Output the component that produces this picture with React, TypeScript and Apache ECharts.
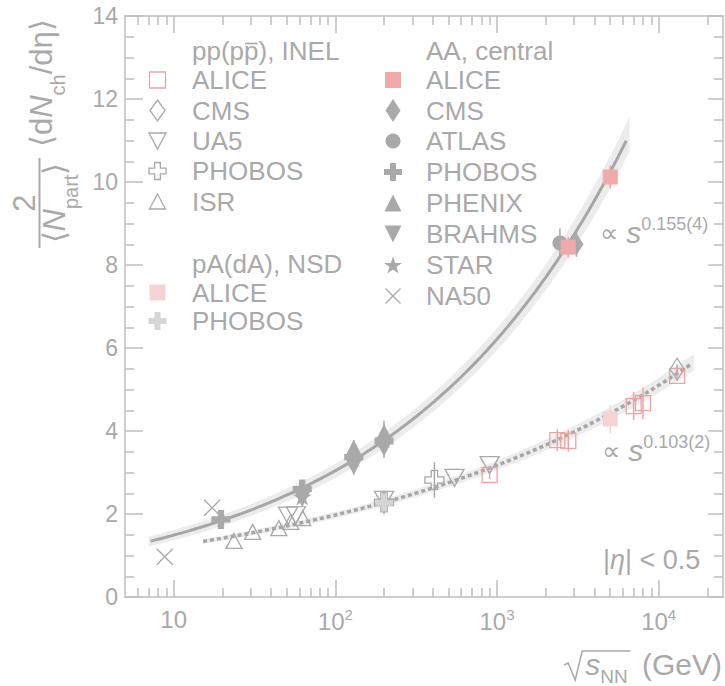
import React, { useEffect, useRef } from 'react';
import * as echarts from 'echarts';

const FONT = "'Liberation Sans', Arial, Helvetica, sans-serif";
const TEXT_COLOR = '#a9a9a9';
const AXIS_COLOR = '#bebebe';
const MARK_GREY = '#a9a9a9';
const ALICE_PINK = '#f1aaaa';
const ALICE_PINK_LINE = '#f0a2a2';
const PA_PINK = '#f6d3d3';
const DA_GREY = '#d5d5d5';
const FIT_GREY = '#a6a6a6';
const BAND_GREY = '#ececec';

// Axis ranges and tick positions
const X_MIN = 5;
const X_MAX = 25000;
const X_MAJOR_TICKS = [10, 100, 1000, 10000];
const X_MINOR_TICKS = [6, 7, 8, 9, 20, 30, 40, 50, 60, 70, 80, 90, 200, 300, 400, 500, 600, 700, 800, 900,
  2000, 3000, 4000, 5000, 6000, 7000, 8000, 9000, 20000];
const Y_MIN = 0;
const Y_MAX = 14;
const Y_STEP = 2;

// Measurements: [√sNN (GeV), 2/<Npart> <dNch/dη>, uncertainty]
// pp(pp̄), INEL
const ppAlice = [[900, 2.94, 0.1], [2360, 3.78, 0.26], [2760, 3.76, 0.26], [7000, 4.6, 0.34], [8000, 4.67, 0.38], [13000, 5.33, 0.12]];
const ppCms = [[13000, 5.49, 0.12]];
const ppUa5 = [[51, 1.96, 0], [57, 1.97, 0], [200, 2.34, 0], [546, 2.87, 0], [900, 3.18, 0]];
const ppPhobos = [[200, 2.28, 0.28], [410, 2.82, 0.43]];
const ppIsr = [[23.6, 1.35, 0], [30.8, 1.57, 0], [44.7, 1.66, 0], [53, 1.81, 0], [62.8, 1.9, 0]];
// pA(dA), NSD
const pAlice = [[5020, 4.29, 0.34]];
const dAuPhobos = [[200, 2.27, 0.2]];
// AA, central
const aaAlice = [[2760, 8.43, 0.25], [5020, 10.12, 0.28]];
const aaCms = [[3100, 8.5, 0.3]];
const aaAtlas = [[2450, 8.53, 0.35]];
const aaPhobos = [[19.6, 1.87, 0], [62.4, 2.6, 0.15], [130, 3.37, 0.15], [200, 3.75, 0.2]];
const aaPhenix = [[130, 3.58, 0.2], [200, 3.95, 0.3]];
const aaBrahms = [[62.4, 2.38, 0.15], [130, 3.15, 0.2], [200, 3.6, 0.25]];
const aaStar = [[62.4, 2.42, 0.15], [130, 3.35, 0], [200, 3.8, 0]];
const aaNa50 = [[8.8, 0.97, 0], [17.3, 2.15, 0]];

// Power-law fits: norm · s^exponent, s in GeV²
const AA_FIT = { norm: 0.73, exponent: 0.155, from: 7.2, to: 6300 };
const AA_BAND = { from: 7.0, to: 6600, abs: 0.08, rel: 0.03 };
const PP_FIT = { norm: 0.765, exponent: 0.103, from: 15.2, to: 15800 };
const PP_BAND = { from: 15.2, to: 16500, abs: 0.01, rel: 0.033 };

const SYM_CROSS = 'path://M1,0L2,0L2,1L3,1L3,2L2,2L2,3L1,3L1,2L0,2L0,1L1,1Z';
const SYM_TRI_DOWN = 'path://M0,0L2,0L1,2Z';
const SYM_STAR = 'path://M50,0L61.2,34.5L97.6,34.5L68.2,55.9L79.4,90.5L50,69.1L20.6,90.5L31.8,55.9L2.4,34.5L38.8,34.5Z';
const SYM_X = 'path://M0,0L10,10M10,0L0,10';
const SYMBOL_OF: Record<string, string> = {
  square: 'rect', circle: 'circle', diamond: 'diamond', triUp: 'triangle',
  triDown: SYM_TRI_DOWN, cross: SYM_CROSS, star: SYM_STAR, x: SYM_X,
};

type Entry = {
  name: string; data: number[][]; kind: string; size: number[]; legendSize: number[];
  fill: string; stroke: string; err: string;
};

const E = {
  ppAlice: { name: 'ALICE', data: ppAlice, kind: 'square', size: [15, 15], legendSize: [16, 16], fill: 'none', stroke: ALICE_PINK_LINE, err: ALICE_PINK_LINE },
  ppCms: { name: 'CMS', data: ppCms, kind: 'diamond', size: [14, 22], legendSize: [15, 21], fill: 'none', stroke: MARK_GREY, err: MARK_GREY },
  ppUa5: { name: 'UA5', data: ppUa5, kind: 'triDown', size: [19, 17], legendSize: [17, 16], fill: 'none', stroke: MARK_GREY, err: MARK_GREY },
  ppPhobos: { name: 'PHOBOS', data: ppPhobos, kind: 'cross', size: [19, 19], legendSize: [17, 17], fill: 'none', stroke: MARK_GREY, err: MARK_GREY },
  ppIsr: { name: 'ISR', data: ppIsr, kind: 'triUp', size: [16, 15], legendSize: [16, 15], fill: 'none', stroke: MARK_GREY, err: MARK_GREY },
  pAlice: { name: 'ALICE', data: pAlice, kind: 'square', size: [15, 15], legendSize: [16, 16], fill: PA_PINK, stroke: 'none', err: PA_PINK },
  dAuPhobos: { name: 'PHOBOS', data: dAuPhobos, kind: 'cross', size: [17, 17], legendSize: [18, 18], fill: DA_GREY, stroke: 'none', err: DA_GREY },
  aaAlice: { name: 'ALICE', data: aaAlice, kind: 'square', size: [15, 15], legendSize: [16, 16], fill: ALICE_PINK, stroke: 'none', err: ALICE_PINK_LINE },
  aaCms: { name: 'CMS', data: aaCms, kind: 'diamond', size: [14, 22], legendSize: [15, 23], fill: MARK_GREY, stroke: 'none', err: MARK_GREY },
  aaAtlas: { name: 'ATLAS', data: aaAtlas, kind: 'circle', size: [15, 15], legendSize: [15, 15], fill: MARK_GREY, stroke: 'none', err: MARK_GREY },
  aaPhobos: { name: 'PHOBOS', data: aaPhobos, kind: 'cross', size: [19, 19], legendSize: [18, 18], fill: MARK_GREY, stroke: 'none', err: MARK_GREY },
  aaPhenix: { name: 'PHENIX', data: aaPhenix, kind: 'triUp', size: [18, 18], legendSize: [17, 17], fill: MARK_GREY, stroke: 'none', err: MARK_GREY },
  aaBrahms: { name: 'BRAHMS', data: aaBrahms, kind: 'triDown', size: [18, 18], legendSize: [17, 17], fill: MARK_GREY, stroke: 'none', err: MARK_GREY },
  aaStar: { name: 'STAR', data: aaStar, kind: 'star', size: [19, 18], legendSize: [18, 17], fill: MARK_GREY, stroke: 'none', err: MARK_GREY },
  aaNa50: { name: 'NA50', data: aaNa50, kind: 'x', size: [16, 16], legendSize: [15, 15], fill: 'none', stroke: MARK_GREY, err: MARK_GREY },
} as Record<string, Entry>;

// drawing order: pp, pA, AA (ALICE on top)
const DRAW_ORDER = ['ppIsr', 'ppUa5', 'ppPhobos', 'ppAlice', 'ppCms', 'dAuPhobos', 'pAlice',
  'aaNa50', 'aaStar', 'aaBrahms', 'aaPhenix', 'aaPhobos', 'aaAtlas', 'aaCms', 'aaAlice'];

const LEGEND_COLUMNS = [
  {
    iconX: 157.5, textX: 192,
    rows: [
      { header: 'pp(pp), INEL', y: 51 },
      { key: 'ppAlice', y: 80 }, { key: 'ppCms', y: 110.5 }, { key: 'ppUa5', y: 141 },
      { key: 'ppPhobos', y: 171 }, { key: 'ppIsr', y: 201.5 },
      { header: 'pA(dA), NSD', y: 264 },
      { key: 'pAlice', y: 292.5 }, { key: 'dAuPhobos', y: 321 },
    ],
  },
  {
    iconX: 393, textX: 426,
    rows: [
      { header: 'AA, central', y: 51 },
      { key: 'aaAlice', y: 80 }, { key: 'aaCms', y: 110.5 }, { key: 'aaAtlas', y: 141 },
      { key: 'aaPhobos', y: 172 }, { key: 'aaPhenix', y: 203 }, { key: 'aaBrahms', y: 234 },
      { key: 'aaStar', y: 265 }, { key: 'aaNa50', y: 296 },
    ],
  },
];

function measure(text: string, size: number, style = 'normal') {
  const ctx = document.createElement('canvas').getContext('2d') as CanvasRenderingContext2D;
  ctx.font = `${style} ${size}px ${FONT}`;
  return ctx.measureText(text).width;
}

function fitCurve(fit: any, from: number, to: number, n = 90) {
  const pts: number[][] = [];
  const l0 = Math.log10(from);
  const l1 = Math.log10(to);
  for (let i = 0; i < n; i++) {
    const x = Math.pow(10, l0 + ((l1 - l0) * i) / (n - 1));
    pts.push([x, fit.norm * Math.pow(x * x, fit.exponent)]);
  }
  return pts;
}

function bandPoints(fit: any, band: any) {
  return fitCurve(fit, band.from, band.to).map(([x, y]) => {
    const hw = band.abs + band.rel * y;
    return [x, y - hw, y + hw];
  });
}

function bandSeries(points: number[][], color: string) {
  return {
    type: 'custom', coordinateSystem: 'cartesian2d', xAxisIndex: 0, yAxisIndex: 0,
    silent: true, z: 1, data: points,
    renderItem: (params: any, api: any) => {
      if (params.dataIndex !== 0) return null;
      const upper = points.map((p) => api.coord([p[0], p[2]]));
      const lower = points.map((p) => api.coord([p[0], p[1]])).reverse();
      return { type: 'polygon', shape: { points: upper.concat(lower) }, style: { fill: color } };
    },
  };
}

function errorSeries(e: Entry) {
  const rows = e.data.filter((d) => d[2] > 0);
  return {
    type: 'custom', coordinateSystem: 'cartesian2d', xAxisIndex: 0, yAxisIndex: 0,
    silent: true, z: 3, data: rows,
    renderItem: (params: any, api: any) => {
      const x = api.value(0);
      const y = api.value(1);
      const err = api.value(2);
      const a = api.coord([x, y - err]);
      const b = api.coord([x, y + err]);
      return { type: 'line', shape: { x1: a[0], y1: a[1], x2: b[0], y2: b[1] }, style: { stroke: e.err, lineWidth: 1.5 } };
    },
  };
}

function markerSeries(e: Entry) {
  const hollow = e.fill === 'none';
  return {
    type: 'scatter', name: e.name, data: e.data.map((d) => [d[0], d[1]]),
    symbol: SYMBOL_OF[e.kind], symbolSize: e.size, silent: true, z: 4,
    itemStyle: {
      color: hollow ? 'rgba(255,255,255,0)' : e.fill,
      borderColor: e.stroke === 'none' ? 'rgba(0,0,0,0)' : e.stroke,
      borderWidth: e.stroke === 'none' ? 0 : 1.3,
      opacity: 1,
    },
    emphasis: { disabled: true },
  };
}

function iconElement(e: Entry, cx: number, cy: number) {
  const [w, h] = e.legendSize;
  const style = { fill: e.fill, stroke: e.stroke, lineWidth: 1.3 };
  const poly = (pts: number[][]) => ({ type: 'polygon', shape: { points: pts }, style });
  switch (e.kind) {
    case 'square':
      return { type: 'rect', shape: { x: cx - w / 2, y: cy - h / 2, width: w, height: h }, style };
    case 'circle':
      return { type: 'circle', shape: { cx, cy, r: w / 2 }, style };
    case 'diamond':
      return poly([[cx, cy - h / 2], [cx + w / 2, cy], [cx, cy + h / 2], [cx - w / 2, cy]]);
    case 'triUp':
      return poly([[cx, cy - h / 2], [cx + w / 2, cy + h / 2], [cx - w / 2, cy + h / 2]]);
    case 'triDown':
      return poly([[cx - w / 2, cy - h / 2], [cx + w / 2, cy - h / 2], [cx, cy + h / 2]]);
    case 'cross': {
      const t = w / 6;
      const s = w / 2;
      return poly([[cx - t, cy - s], [cx + t, cy - s], [cx + t, cy - t], [cx + s, cy - t], [cx + s, cy + t], [cx + t, cy + t],
        [cx + t, cy + s], [cx - t, cy + s], [cx - t, cy + t], [cx - s, cy + t], [cx - s, cy - t], [cx - t, cy - t]]);
    }
    case 'star': {
      const unit = [[50, 0], [61.2, 34.5], [97.6, 34.5], [68.2, 55.9], [79.4, 90.5], [50, 69.1], [20.6, 90.5], [31.8, 55.9], [2.4, 34.5], [38.8, 34.5]];
      return poly(unit.map(([px, py]) => [cx + ((px - 50) / 95.2) * w, cy + ((py - 45.25) / 90.5) * h]));
    }
    default: {
      const ls = { stroke: e.stroke, lineWidth: 1.3 };
      return {
        type: 'group', children: [
          { type: 'line', shape: { x1: cx - w / 2, y1: cy - h / 2, x2: cx + w / 2, y2: cy + h / 2 }, style: ls },
          { type: 'line', shape: { x1: cx + w / 2, y1: cy - h / 2, x2: cx - w / 2, y2: cy + h / 2 }, style: ls },
        ],
      };
    }
  }
}

const LEGEND_SIZE = 26;

function textEl(text: string, x: number, y: number, size: number, extra: any = {}) {
  return {
    type: 'text', x, y, silent: true,
    style: { text, fill: TEXT_COLOR, fontSize: size, fontFamily: FONT, align: 'left', verticalAlign: 'middle', ...extra },
  };
}

function buildGraphics() {
  const els: any[] = [];

  // legend
  LEGEND_COLUMNS.forEach((col) => {
    col.rows.forEach((row: any) => {
      if (row.header) {
        els.push(textEl(row.header, col.textX, row.y, LEGEND_SIZE));
      } else {
        const e = E[row.key];
        els.push(iconElement(e, col.iconX, row.y));
        els.push(textEl(e.name, col.textX, row.y, LEGEND_SIZE));
      }
    });
  });
  // antiproton bar over the last p of the pp header
  const barX0 = LEGEND_COLUMNS[0].textX + measure('pp(p', LEGEND_SIZE) + 1;
  const barX1 = LEGEND_COLUMNS[0].textX + measure('pp(pp', LEGEND_SIZE) - 1;
  els.push({ type: 'line', silent: true, shape: { x1: barX0, y1: 43.5, x2: barX1, y2: 43.5 }, style: { stroke: TEXT_COLOR, lineWidth: 1.6 } });

  // fit exponents
  const expRich = {
    p: { fontSize: 26, fontFamily: FONT, fill: TEXT_COLOR },
    s: { fontSize: 30, fontFamily: FONT, fontStyle: 'italic', fill: TEXT_COLOR },
    sup: { fontSize: 18, fontFamily: FONT, fill: TEXT_COLOR, padding: [0, 0, 18, 0] },
  };
  els.push(textEl('{p|∝ }{s|s}{sup|0.155(4)}', 600, 232.5, 26, { rich: expRich }));
  els.push(textEl('{p|∝ }{s|s}{sup|0.103(2)}', 602, 450.5, 26, { rich: expRich }));

  // pseudorapidity window
  els.push(textEl('{t||}{it|η}{t|| < 0.5}', 603, 560, 27, {
    rich: {
      t: { fontSize: 27, fontFamily: FONT, fill: TEXT_COLOR },
      it: { fontSize: 27, fontFamily: FONT, fontStyle: 'italic', fill: TEXT_COLOR },
    },
  }));

  // y-axis title, rotated
  const yt = 31;
  const yRich = {
    m: { fontSize: yt, fontFamily: FONT, fill: TEXT_COLOR },
    it: { fontSize: yt, fontFamily: FONT, fontStyle: 'italic', fill: TEXT_COLOR },
    sub: { fontSize: 20, fontFamily: FONT, fill: TEXT_COLOR, padding: [33, 0, 0, 0] },
  };
  els.push({
    type: 'group', x: 0, y: 250, rotation: Math.PI / 2, silent: true,
    children: [
      { type: 'text', x: 47, y: 24.5, style: { text: '2', fill: TEXT_COLOR, fontSize: yt, fontFamily: FONT, align: 'center', verticalAlign: 'middle' } },
      { type: 'line', shape: { x1: 2, y1: 39.5, x2: 92, y2: 39.5 }, style: { stroke: TEXT_COLOR, lineWidth: 2 } },
      { type: 'text', x: 47, y: 54.5, style: { text: '{m|⟨}{it|N}{sub|part}{m|⟩}', align: 'center', verticalAlign: 'middle', fill: TEXT_COLOR, rich: yRich } },
      { type: 'text', x: 103, y: 41.5, style: { text: '{m|⟨d}{it|N}{sub|ch}{m|/dη⟩}', align: 'left', verticalAlign: 'middle', fill: TEXT_COLOR, rich: yRich } },
    ],
  });

  // x-axis title with radical
  const xt = 30;
  const right = 722;
  const gap = 6;
  const wTail = measure(' (GeV)', xt);
  const wNN = measure('NN', 19);
  const wS = measure('s', xt, 'italic');
  const sLeft = right - wTail - gap - wNN - wS;
  const base = 675;
  els.push(textEl('{s|s}{sub|NN}{m| (GeV)}', right, base - 10.5, xt, {
    align: 'right',
    rich: {
      s: { fontSize: xt, fontFamily: FONT, fontStyle: 'italic', fill: TEXT_COLOR },
      sub: { fontSize: 19, fontFamily: FONT, fill: TEXT_COLOR, padding: [24, gap, 0, 0] },
      m: { fontSize: xt, fontFamily: FONT, fill: TEXT_COLOR },
    },
  }));
  els.push({
    type: 'polyline', silent: true,
    shape: { points: [[sLeft - 21, base - 10], [sLeft - 17, base - 12], [sLeft - 10, base + 5], [sLeft - 3, base - 24], [sLeft + wS + wNN + 3, base - 24]] },
    style: { stroke: TEXT_COLOR, lineWidth: 1.5, fill: 'none' },
  });

  return els;
}

function xAxisFor(position: string, major: boolean) {
  const line = { color: AXIS_COLOR, width: 1.5 };
  return {
    type: 'log', logBase: 10, min: X_MIN, max: X_MAX, position, gridIndex: 0,
    splitLine: { show: false }, minorTick: { show: false }, minorSplitLine: { show: false },
    axisLine: { show: major, onZero: false, lineStyle: line },
    axisTick: { show: true, inside: true, length: major ? 17 : 9, customValues: major ? X_MAJOR_TICKS : X_MINOR_TICKS, lineStyle: line },
    axisLabel: position === 'bottom' && major
      ? {
        show: true, customValues: X_MAJOR_TICKS, margin: 10, color: TEXT_COLOR, fontSize: 24, fontFamily: FONT,
        formatter: (v: number) => {
          const p = Math.round(Math.log10(v));
          return p === 1 ? '{b|10}' : `{b|10}{sup|${p}}`;
        },
        rich: {
          b: { fontSize: 24, fontFamily: FONT, color: TEXT_COLOR },
          sup: { fontSize: 15, fontFamily: FONT, color: TEXT_COLOR, padding: [0, 0, 14, 0] },
        },
      }
      : { show: false },
  };
}

function yAxisFor(position: string) {
  const line = { color: AXIS_COLOR, width: 1.5 };
  return {
    type: 'value', min: Y_MIN, max: Y_MAX, interval: Y_STEP, position,
    splitLine: { show: false },
    axisLine: { show: true, onZero: false, lineStyle: line },
    axisTick: { show: true, inside: true, length: position === 'left' ? 18 : 15, lineStyle: line },
    minorTick: { show: true, splitNumber: 4, length: 9, lineStyle: line },
    axisLabel: position === 'left'
      ? { show: true, color: TEXT_COLOR, fontSize: 23, fontFamily: FONT, margin: 7 }
      : { show: false },
  };
}

function buildOption() {
  const series: any[] = [
    bandSeries(bandPoints(AA_FIT, AA_BAND), BAND_GREY),
    bandSeries(bandPoints(PP_FIT, PP_BAND), BAND_GREY),
    {
      type: 'line', data: fitCurve(AA_FIT, AA_FIT.from, AA_FIT.to), showSymbol: false, symbol: 'none',
      silent: true, z: 2, lineStyle: { color: FIT_GREY, width: 3 },
    },
    {
      type: 'line', data: fitCurve(PP_FIT, PP_FIT.from, PP_FIT.to), showSymbol: false, symbol: 'none',
      silent: true, z: 2, lineStyle: { color: FIT_GREY, width: 3.5, type: [4, 3] },
    },
  ];
  DRAW_ORDER.forEach((k) => {
    const e = E[k];
    if (e.data.some((d) => d[2] > 0)) series.push(errorSeries(e));
    series.push(markerSeries(e));
  });

  return {
    animation: false,
    backgroundColor: '#ffffff',
    textStyle: { fontFamily: FONT },
    grid: { left: 125, top: 16, width: 598, height: 581, outerBoundsMode: 'none', containLabel: false },
    xAxis: [xAxisFor('bottom', true), xAxisFor('bottom', false), xAxisFor('top', true), xAxisFor('top', false)],
    yAxis: [yAxisFor('left'), yAxisFor('right')],
    series,
    graphic: { elements: buildGraphics() },
  };
}

export default function App() {
  const ref = useRef<HTMLDivElement>(null);
  useEffect(() => {
    const el = ref.current as HTMLDivElement;
    const chart = echarts.init(el, null, { renderer: 'svg' });
    chart.setOption(buildOption() as any);
    return () => chart.dispose();
  }, []);
  return <div ref={ref} style={{ position: 'fixed', left: 0, top: 0, width: 725, height: 686, background: '#fff' }} />;
}
